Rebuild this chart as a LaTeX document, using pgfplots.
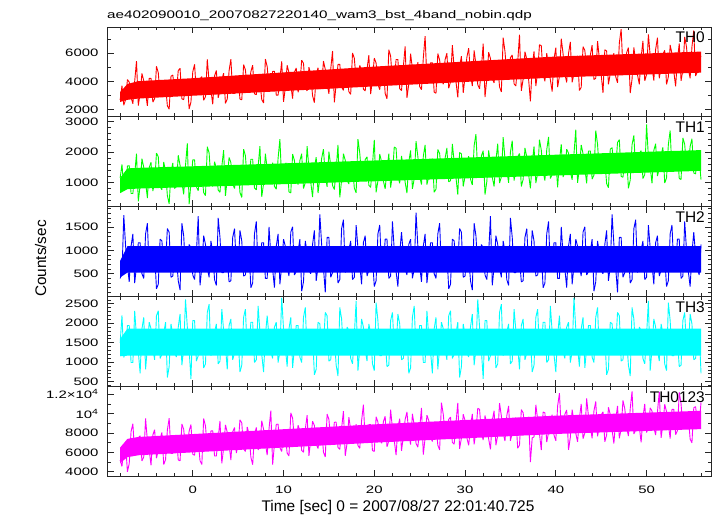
\documentclass[border=0pt]{standalone}
\usepackage{fontspec}
\setmainfont{Liberation Sans}
\usepackage{pgfplots}
\usepackage{pgfplotstable}
\pgfplotsset{compat=1.18}
\definecolor{cR}{RGB}{255,0,0}
\definecolor{cG}{RGB}{0,255,0}
\definecolor{cB}{RGB}{0,0,255}
\definecolor{cC}{RGB}{0,255,255}
\definecolor{cM}{RGB}{255,0,255}

\pgfplotstableread{
t a b c d e
-8.0 2700 1150 400 1500 5200
-7.8 3700 1590 500 2200 4550
-7.6 2320 800 1760 1120 6430
-7.4 2710 780 1092 1270 6910
-7.2 4130 1540 675 1942 4000
-7.0 3950 1550 325 1942 4850
-6.8 2880 640 1092 990 8150
-6.6 2420 640 1358 990 8950
-6.4 4000 1270 300 2320 5850
-6.2 5440 1940 675 1648 5880
-6.0 2300 380 1168 1270 7480
-5.8 3170 910 1168 710 7710
-5.6 4560 1780 500 1858 5120
-5.4 4050 1490 400 2152 5530
-5.2 3190 1010 1358 815 9500
-5.0 2270 490 1586 1375 7200
-4.8 4220 1490 550 2026 6260
-4.6 4220 1660 550 1858 4670
-4.4 2540 720 902 1340 7780
-4.2 2790 990 940 1060 8340
-4.0 5070 1960 175 2194 5400
-3.8 4620 1840 275 2320 6210
-3.6 2930 860 1244 1095 7380
-3.4 2940 760 1206 1200 8050
-3.2 3820 1670 650 1732 4740
-3.0 3750 1380 700 2026 5250
-2.8 2280 570 1472 605 8300
-2.6 2040 300 1396 885 9520
-2.4 4370 1340 425 1984 5880
-2.2 4450 1640 450 1690 5890
-2.0 3360 800 978 1235 7020
-1.8 3240 900 864 1130 7690
-1.6 4770 1890 350 1900 5220
-1.4 4930 1560 150 2236 5130
-1.2 2770 1010 1586 920 8930
-1.0 2710 610 1320 1340 8390
-0.8 3750 1560 575 2614 6360
-0.6 3980 2280 575 1900 6570
-0.4 2050 290 1130 1305 8200
-0.2 2550 980 1054 570 8870
0.0 4680 1740 475 2068 5800
0.2 5210 1740 375 2068 5710
0.4 3130 860 940 1025 7690
0.6 3140 730 1738 1165 7150
0.8 4180 1410 250 1606 5140
1.0 4340 1290 650 1732 4750
1.2 2670 670 1320 850 9490
1.4 2920 570 1130 955 8730
1.6 5560 2170 625 2278 6380
1.8 3990 1970 425 2488 6190
2.0 3380 1100 1206 1165 8210
2.2 2390 870 978 1410 8220
2.4 4390 1680 375 1774 5620
2.6 4770 1470 250 1984 5630
2.8 2850 750 1700 955 7480
3.0 3350 680 1282 1025 9250
3.2 4120 1520 525 2362 4860
3.4 4580 2060 525 1816 6470
3.6 2450 560 1054 1410 8840
3.8 2760 1120 826 815 8080
4.0 4750 1820 325 1942 6800
4.2 5580 1650 350 2110 5210
4.4 3160 960 1282 1060 8110
4.6 3160 800 1472 1235 8560
4.8 3880 1320 675 1816 5940
5.0 4340 1530 625 1606 6750
5.2 2750 670 1434 745 9360
5.4 2700 510 1206 920 9040
5.6 5190 2090 450 2152 6380
5.8 4820 1880 475 2362 6090
6.0 3470 1040 826 1270 8630
6.2 3600 1010 1016 1305 7870
6.4 4690 1760 200 2026 5520
6.6 5150 1760 300 2026 4730
6.8 3120 820 1358 990 7790
7.0 3070 760 1624 1060 8570
7.2 4350 1510 550 2446 6260
7.4 3980 2190 600 1774 6570
7.6 2720 530 1168 1200 9260
7.8 2480 960 1168 745 8390
8.0 5580 1940 400 1690 6900
8.2 5060 1440 400 2194 5710
8.4 3490 1030 1510 1648 8420
8.6 3380 1100 902 1270 10300
8.8 4710 1650 600 1095 4740
9.0 4710 870 200 1900 6850
9.2 3030 780 1092 2026 8900
9.4 3030 1790 1358 990 8910
9.6 4210 2420 275 1270 6480
9.8 5420 1050 675 2656 6090
10.0 2560 1150 1244 1858 8060
10.2 3560 1630 1092 1375 7740
10.4 5140 1630 650 885 5920
10.6 4620 690 450 1858 5630
10.8 3770 660 1396 2152 10080
11.0 2780 1930 1510 850 9540
11.2 4650 1720 475 1375 7260
11.4 4950 1160 550 1942 6570
11.6 3240 930 978 1942 8800
11.8 3740 1720 1244 1130 8260
12.0 5500 1940 125 990 6200
12.2 5280 800 325 2152 6010
12.4 3520 1000 1206 2404 8400
12.6 3340 2190 940 1200 9840
12.8 5010 1440 575 1200 5640
13.0 4490 1010 500 1648 7350
13.2 2990 520 1130 1690 9210
13.4 2500 1490 1434 675 8780
13.6 4440 1830 350 815 6880
13.8 4970 650 650 2026 6390
14.0 3460 1150 1776 1984 7930
14.2 3650 1790 1130 1340 8490
14.4 5440 2090 625 1410 6020
14.6 4850 1220 100 2278 5530
14.8 3860 860 1282 2194 9950
15.0 3120 2010 1282 1025 9410
15.2 4870 1550 425 1060 7160
15.4 6150 900 525 1732 7070
15.6 2520 770 864 1606 9110
15.8 3830 1430 978 920 9120
16.0 5200 2230 300 640 6500
16.2 5210 510 375 2404 6310
16.4 3610 1080 1472 2110 8490
16.6 3370 1940 1662 1235 10260
16.8 4630 1730 525 1235 5640
17.0 4410 1080 700 1900 6950
17.2 3270 950 1016 1816 9630
17.4 3090 1650 1206 1095 8320
17.6 6010 1530 375 955 7180
17.8 5640 820 425 1690 7390
18.0 4100 660 1548 2572 8900
18.2 3670 2420 1054 780 6710
18.4 5140 1960 700 1340 6420
18.6 4770 1200 275 2110 9260
18.8 3450 1160 1168 1900 10920
19.0 3330 1750 1320 1305 7250
19.2 4870 1840 450 1025 7560
19.4 5850 910 575 1984 8860
19.6 3110 840 1054 1732 8870
19.8 4170 1590 864 955 6190
20.0 5650 2390 225 780 6100
20.2 5300 680 350 2530 9670
20.4 3790 1050 1358 2068 9130
20.6 3420 1930 1548 1165 7630
20.8 4600 1680 600 1165 6940
21.0 5050 1050 625 1816 9160
21.2 3140 790 1244 1564 9720
21.4 2770 1440 1244 885 6570
21.6 6240 1940 400 920 7180
21.8 5800 830 450 2068 10410
22.0 3990 1260 1624 2278 8440
22.2 3920 2160 1016 1375 7210
22.4 5550 2120 550 1305 5720
22.6 5550 1200 225 2236 8580
22.8 3490 970 940 1984 9470
23.0 3350 1870 1396 1060 6150
23.2 5030 1450 902 1095 7660
23.4 6480 1010 600 1564 9390
23.6 2840 650 475 1774 10170
23.8 3820 1670 1130 710 7890
24.0 5960 2050 1244 850 6800
24.2 4890 790 400 2152 9980
24.4 3990 1120 600 2446 8780
24.6 4150 2350 1814 1200 6930
24.8 5360 1850 1092 1270 6540
25.0 3640 1190 675 1942 8480
25.2 3420 930 325 1942 10580
25.4 5650 1850 1092 990 5770
25.6 7200 2230 1358 990 7480
25.8 4040 930 300 2320 9840
26.0 4270 1200 675 1648 9300
26.2 5310 1570 1168 1270 7510
26.4 5320 1780 1168 710 7120
26.6 3240 680 500 1858 9110
26.8 3170 780 400 2152 8790
27.0 5970 2080 1358 815 6750
27.2 5520 1950 1586 1375 6260
27.4 4320 1310 550 2026 11130
27.6 3800 1280 550 1858 9930
27.8 5540 1790 902 1340 7890
28.0 6000 2130 940 1060 7800
28.2 3520 1020 175 2194 9410
28.4 3970 1060 275 2320 9640
28.6 6560 2260 1244 1095 7030
28.8 4950 1680 1206 1200 6840
29.0 3990 1160 650 1732 9010
29.2 2870 600 700 2026 11110
29.4 5060 1980 1472 605 6370
29.6 5780 1940 1396 885 7480
29.8 3190 870 425 1984 9930
30.0 4330 1200 450 1690 9280
30.2 5710 1650 978 1235 7510
30.4 6350 1860 864 1130 6720
30.6 4490 1110 350 1900 8640
30.8 3680 920 150 2236 9970
31.0 6190 2200 1586 920 6840
31.2 5200 2580 1320 1340 8150
31.4 3770 1320 575 2614 10550
31.6 3480 1290 575 1900 10440
31.8 4950 1870 1130 1305 7970
32.0 6670 2040 1054 570 7280
32.2 2900 600 475 2068 9810
32.4 4180 1030 375 2068 8720
32.6 6060 2050 940 1025 7400
32.8 5620 1590 1738 1165 6310
33.0 4200 1170 250 1606 9290
33.2 3900 870 650 1732 10290
33.4 5460 1720 1320 850 6740
33.6 5190 2270 1130 955 7740
33.8 3620 980 625 2278 11080
34.0 3260 1180 425 2488 9770
34.2 7100 2480 1206 1165 7970
34.4 6120 1770 978 1410 7180
34.6 4470 1410 375 1774 9790
34.8 4410 990 250 1984 10790
35.0 5690 1990 1700 955 7200
35.2 5870 2370 1282 1025 8010
35.4 3830 1060 525 2362 9060
35.6 3680 1420 525 1816 9610
35.8 5350 1830 1054 1410 6430
36.0 7300 1950 826 815 6740
36.2 3330 870 325 1942 10410
36.4 4160 1100 350 2110 10090
36.6 6100 2130 1282 1060 8360
36.8 5570 1840 1472 1235 8270
37.0 4180 1270 675 1816 9670
37.2 2600 810 625 1606 5000
37.4 5050 1630 1434 745 7500
37.6 6130 2180 1206 920 7600
37.8 3680 980 450 2152 10910
38.0 4660 1310 475 2362 9380
38.2 6600 2400 826 1270 7930
38.4 6520 2060 1016 1305 6240
38.6 4530 1350 200 2026 10170
38.8 4010 1060 300 2026 10070
39.0 6000 2070 1358 990 7060
39.2 5100 2490 1624 1060 8070
39.4 4110 1130 550 2446 9330
39.6 3290 1260 600 1774 9880
39.8 5570 1820 1168 1200 7790
40.0 6390 1740 1168 745 7200
40.2 3600 840 400 1690 10790
40.4 4360 1700 400 2194 12100
40.6 7030 2250 1510 1340 8420
40.8 5960 1180 902 1270 8330
41.0 4520 1340 600 1095 9940
41.2 3930 2090 200 1900 10380
41.4 5970 1960 1092 2026 6250
41.6 6790 1350 1358 990 7560
41.8 3940 1090 275 1270 10400
42.0 4540 1930 675 2656 9200
42.2 5360 2730 1244 1858 7980
42.4 5810 990 1092 1375 7080
42.6 3360 1460 650 885 9550
42.8 3590 2230 450 1858 10990
43.0 6460 1940 1396 2152 7410
43.2 6190 1460 1510 850 8010
43.4 4800 970 475 1375 11560
43.6 4730 2030 550 1942 9700
43.8 5840 2030 978 1942 8730
44.0 6570 1110 1244 1130 7440
44.2 4140 1240 125 990 10270
44.4 4220 2700 325 2152 11260
44.6 6850 2250 1206 2404 7660
44.8 5600 1310 940 1200 8770
45.0 4460 1310 575 1200 9860
45.2 3190 1790 500 1648 10190
45.4 6240 1750 1130 1690 7090
45.6 6150 960 1434 675 7800
45.8 3800 830 350 815 10650
46.0 4560 2090 650 2026 9890
46.2 5540 2140 1776 1984 8320
46.4 5990 1520 1130 1340 6920
46.6 4340 1460 625 1410 9360
46.8 3900 2310 100 2278 10800
47.0 6720 2400 1282 2194 7450
47.2 7700 1200 1282 1025 8450
47.4 4810 1170 425 1060 11370
47.6 4740 1730 525 1732 10500
47.8 6020 1860 864 1606 8570
48.0 6390 810 978 920 7680
48.2 3180 1080 300 640 10520
48.4 4160 2240 375 2404 12300
48.6 6400 2540 1472 2110 7900
48.8 5410 1380 1662 1235 8310
49.0 4470 1390 525 1235 9890
49.2 3800 1950 700 1900 8620
49.4 5700 2040 1016 1816 7030
49.6 6870 1130 1206 1095 9580
49.8 4040 1260 375 955 11010
50.0 4490 2900 425 1690 8050
50.2 7330 1840 1548 2572 8560
50.4 5810 1500 1054 780 10590
50.6 5030 970 700 1340 10270
50.8 4060 2050 275 2110 8570
51.0 6270 2270 1168 1900 7780
51.2 7090 1210 1320 1305 10170
51.4 4220 1470 450 1025 12270
51.6 5050 1890 575 1984 7490
51.8 5930 2150 1054 1732 8900
52.0 6200 980 864 955 10960
52.2 3790 1150 225 780 10200
52.4 4320 2240 350 2530 8910
52.6 6580 2700 1358 2068 7420
52.8 5950 1360 1548 1165 10430
53.0 4710 1360 600 1165 10440
53.2 3660 1740 625 1816 7830
53.4 5510 1990 1244 1564 8240
53.6 6690 1130 1244 885 12200
53.8 4050 1100 400 920 11010
54.0 4810 2460 450 2068 8450
54.2 7150 2250 1624 2278 8460
54.4 6440 1500 1016 1375 9810
54.6 4890 1570 550 1305 9710
54.8 4220 2180 225 2236 7370
55.0 6450 2430 940 1984 6980
55.2 7600 1310 1396 1060 10600
55.4 4390 1280 902 1095 10720
55.6 4690 1970 600 1564 9090
55.8 5930 1760 475 1774 8900
56.0 5750 1090 1130 710 11170
}\lc

\pgfplotsset{
  panel/.style={
    scale only axis, anchor=south west, width=604bp, height=89.8bp,
    xmin=-9.45, xmax=57.1,
    xtick={0,10,20,30,40,50},
    minor xtick={-8,-6,...,56},
    tick align=inside, major tick length=6.5bp, minor tick length=3.5bp,
    axis line style={black!85, line width=0.8bp},
    tick style={black!85, line width=0.7bp},
    /pgf/number format/1000 sep={},
    /pgf/number format/assume math mode=true,
    scaled y ticks=false, scaled x ticks=false,
    tick label style={font=\fontsize{15}{15}\selectfont, yscale=0.72},
    yticklabel shift=5bp,
    xticklabel shift=7bp,
  },
  lcs/.style={line width=0.9bp, mark=none, line join=bevel},
}
\tikzset{
  lab/.style={anchor=base east, font=\fontsize{15.5}{16}\selectfont, inner sep=0pt, xshift=-6bp, yshift=-16bp},
}

\begin{document}
\begin{tikzpicture}
\path[use as bounding box] (0,0) rectangle (717bp,516bp);

% TH0
\begin{axis}[panel, at={(107bp,399.2bp)}, ymin=1500, ymax=7850,
  ytick={2000,4000,6000}, minor ytick={3000,5000,7000}, xticklabels={}]
\addplot[fill=cR, draw=none] coordinates {(-8,2550) (-7.2,2700) (-6,2790) (0,2990) (20,3650) (40,4280) (56,4620) (56,6110) (40,5760) (20,5050) (0,4230) (-6,4020) (-7.2,3820) (-8,3250)};
\addplot[lcs, cR] table[x=t, y=a] {\lc};
\node[lab] at (rel axis cs:1,1) {TH0};
\end{axis}

% TH1
\begin{axis}[panel, at={(107bp,309.4bp)}, ymin=210, ymax=3150,
  ytick={1000,2000,3000}, minor ytick={400,600,...,3000}, xticklabels={}]
\addplot[fill=cG, draw=none] coordinates {(-8,650) (-7.2,780) (-6,800) (0,850) (56,1380) (56,2060) (0,1530) (-6,1480) (-7.2,1460) (-8,1150)};
\addplot[lcs, cG] table[x=t, y=b] {\lc};
\node[lab] at (rel axis cs:1,1) {TH1};
\end{axis}

% TH2
\begin{axis}[panel, at={(107bp,219.6bp)}, ymin=13, ymax=1945,
  ytick={500,1000,1500}, minor ytick={100,200,...,1900}, xticklabels={}]
\addplot[fill=cB, draw=none] coordinates {(-8,420) (-7.2,525) (56,525) (56,1092) (-7.2,1092) (-8,780)};
\addplot[lcs, cB] table[x=t, y=c] {\lc};
\node[lab] at (rel axis cs:1,1) {TH2};
\end{axis}

% TH3
\begin{axis}[panel, at={(107bp,129.8bp)}, ymin=380, ymax=2690,
  ytick={500,1000,1500,2000,2500}, minor ytick={400,500,...,2600}, xticklabels={}]
\addplot[fill=cC, draw=none] coordinates {(-8,1150) (-7.2,1165) (56,1165) (56,1858) (-7.2,1858) (-8,1600)};
\addplot[lcs, cC] table[x=t, y=d] {\lc};
\node[lab] at (rel axis cs:1,1) {TH3};
\end{axis}

% TH0123
\begin{axis}[panel, at={(107bp,40bp)}, ymin=3560, ymax=12830,
  ytick={4000,6000,8000,10000,12000},
  yticklabels={4000,6000,8000,10\textsuperscript{4},1.2×10\textsuperscript{4}},
  minor ytick={4000,5000,...,12000}]
\addplot[fill=cM, draw=none] coordinates {(-8,4900) (-7.2,5500) (-6,5700) (0,6000) (20,7000) (40,7900) (56,8400) (56,10290) (40,9790) (20,8890) (0,7890) (-6,7590) (-7.2,7390) (-8,6500)};
\addplot[lcs, cM] table[x=t, y=e] {\lc};
\node[lab] at (rel axis cs:1,1) {TH0123};
\end{axis}

\node[anchor=base west, font=\fontsize{15.3}{16}\selectfont, yscale=0.72, inner sep=0pt] at (107bp,497.3bp) {ae402090010\_20070827220140\_wam3\_bst\_4band\_nobin.qdp};
\node[anchor=base, font=\fontsize{15.5}{16}\selectfont, inner sep=0pt] at (398bp,4.7bp) {Time [sec] 0 = 2007/08/27 22:01:40.725};
\node[anchor=base, rotate=90, font=\fontsize{15.4}{16}\selectfont, inner sep=0pt] at (46bp,257.5bp) {Counts/sec};
\end{tikzpicture}
\end{document}
